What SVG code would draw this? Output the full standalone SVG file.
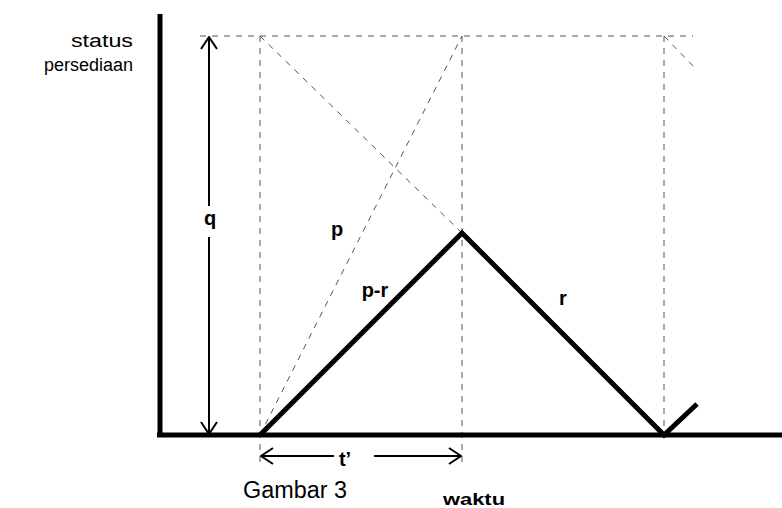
<svg xmlns="http://www.w3.org/2000/svg" width="782" height="508" viewBox="0 0 782 508">
<style>
.dash{stroke:#555;stroke-width:1;stroke-dasharray:6,6;fill:none}
.thick{stroke:#000;stroke-width:5;fill:none;stroke-linejoin:miter}
.thin{stroke:#000;stroke-width:2;fill:none}
.lbl{font-family:"Liberation Sans",Arial,sans-serif;font-weight:bold;font-size:20px;fill:#000}
.txt{font-family:"Liberation Sans",Arial,sans-serif;font-size:18px;fill:#000}
</style>
<defs>
<marker id="open" viewBox="0 0 14 18" refX="13" refY="9" markerWidth="14" markerHeight="18" markerUnits="userSpaceOnUse" orient="auto-start-reverse">
<path d="M1,1 L13,9 L1,17" fill="none" stroke="#000" stroke-width="2"/>
</marker>
</defs>
<g id="guides">
<line class="dash" x1="200" y1="36" x2="693" y2="36"/>
<line class="dash" x1="260" y1="36" x2="260" y2="465"/>
<line class="dash" x1="462" y1="36" x2="462" y2="465"/>
<line class="dash" x1="664" y1="36" x2="664" y2="435"/>
<line class="dash" x1="260" y1="36" x2="462" y2="233"/>
<line class="dash" x1="664" y1="36" x2="697" y2="70"/>
<line class="dash" x1="260" y1="435" x2="462" y2="36"/>
</g>
<g id="axes">
<line class="thick" x1="160" y1="14" x2="160" y2="437"/>
<line class="thick" x1="157" y1="435" x2="782" y2="435"/>
</g>
<g id="connectors">
<polyline class="thick" points="260,435 462,233 664,435 697,404"/>
<line class="thin" x1="209" y1="206" x2="209" y2="37" marker-end="url(#open)"/>
<line class="thin" x1="209" y1="237" x2="209" y2="434" marker-end="url(#open)"/>
<line class="thin" x1="334" y1="456" x2="261" y2="456" marker-end="url(#open)"/>
<line class="thin" x1="374" y1="456" x2="461" y2="456" marker-end="url(#open)"/>
</g>
<g id="labels">
<text class="txt" x="71" y="47" textLength="62" lengthAdjust="spacingAndGlyphs">status</text>
<text class="txt" x="44" y="71" textLength="89" lengthAdjust="spacingAndGlyphs">persediaan</text>
<text class="lbl" x="210" y="225" text-anchor="middle">q</text>
<text class="lbl" x="337" y="236" text-anchor="middle">p</text>
<text class="lbl" x="375" y="297" text-anchor="middle">p-r</text>
<text class="lbl" x="563" y="305" text-anchor="middle">r</text>
<text class="lbl" x="345" y="466" text-anchor="middle">t’</text>
<text class="txt" x="243" y="498" textLength="104" lengthAdjust="spacingAndGlyphs" style="font-size:23px">Gambar 3</text>
<text class="lbl" x="443" y="505" textLength="62" lengthAdjust="spacingAndGlyphs" style="font-size:17px">waktu</text>
</g>
</svg>
